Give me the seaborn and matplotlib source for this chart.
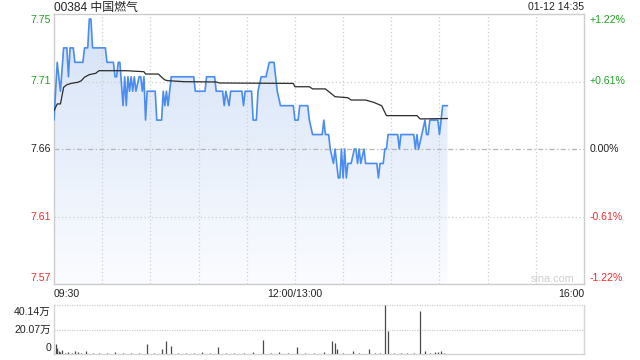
import numpy as np
import pandas as pd
import matplotlib
matplotlib.use("Agg")
import matplotlib.pyplot as plt
import matplotlib.transforms as mtransforms
from matplotlib.colors import LinearSegmentedColormap
import seaborn as sns

sns.set_style("white")
plt.rcParams["font.family"] = ["Liberation Sans", "Noto Sans CJK SC", "DejaVu Sans"]

# ---------------- data ----------------
title = "00384 中国燃气"
stamp = "01-12 14:35"
watermark = "sina.com"
prev_close = 7.66
range_pct = 1.22
pct_levels = [1.22, 0.61, 0.0, -0.61, -1.22]
price_labels = ["7.75", "7.71", "7.66", "7.61", "7.57"]
pct_labels = ["+1.22%", "+0.61%", "0.00%", "-0.61%", "-1.22%"]
time_labels = ["09:30", "12:00/13:00", "16:00"]
time_pos = [0, 150, 330]          # trading minutes from open
session_len = 330

price_t = [0, 2, 4, 6, 8, 9, 10, 12, 13, 18,
           19, 21, 22, 23, 24, 32, 33, 37, 38, 39,
           40, 41, 43, 44, 45, 46, 47, 48, 49, 50,
           51, 53, 54, 55, 56, 57, 58, 63, 64, 67,
           68, 69, 70, 71, 72, 73, 87, 88, 94, 95,
           100, 101, 105, 106, 107, 109, 110, 117, 118, 119,
           123, 124, 126, 127, 129, 132, 134, 137, 139, 141,
           149, 150, 152, 153, 158, 159, 161, 167, 168, 169,
           171, 172, 174, 175, 177, 178, 179, 180, 181, 182,
           183, 185, 187, 188, 189, 190, 191, 193, 194, 201,
           202, 203, 205, 206, 207, 208, 214, 215, 216, 224,
           225, 226, 227, 229, 231, 232, 233, 234, 239, 240,
           241, 242, 245]
price_v = [7.68, 7.72, 7.70, 7.73, 7.73, 7.71, 7.73, 7.73, 7.72, 7.72,
           7.73, 7.73, 7.75, 7.75, 7.73, 7.73, 7.72, 7.72, 7.71, 7.71,
           7.72, 7.72, 7.69, 7.71, 7.69, 7.71, 7.70, 7.71, 7.70, 7.71,
           7.70, 7.71, 7.71, 7.70, 7.71, 7.68, 7.70, 7.70, 7.68, 7.68,
           7.70, 7.69, 7.70, 7.69, 7.70, 7.71, 7.71, 7.70, 7.70, 7.71,
           7.71, 7.70, 7.70, 7.69, 7.70, 7.69, 7.70, 7.70, 7.69, 7.70,
           7.70, 7.68, 7.68, 7.70, 7.71, 7.71, 7.72, 7.72, 7.70, 7.69,
           7.69, 7.68, 7.68, 7.69, 7.69, 7.68, 7.67, 7.67, 7.68, 7.67,
           7.67, 7.66, 7.65, 7.66, 7.64, 7.64, 7.66, 7.64, 7.66, 7.64,
           7.65, 7.65, 7.66, 7.66, 7.65, 7.66, 7.65, 7.66, 7.65, 7.65,
           7.64, 7.65, 7.65, 7.66, 7.66, 7.67, 7.67, 7.66, 7.67, 7.67,
           7.66, 7.67, 7.66, 7.67, 7.68, 7.67, 7.67, 7.68, 7.68, 7.67,
           7.68, 7.69, 7.69]

avg_t = [0, 2, 4, 6, 8, 11, 15, 17, 19, 22,
         26, 28, 45, 56, 57, 65, 67, 69, 71, 81,
         101, 103, 149, 150, 159, 161, 169, 175, 183, 185,
         194, 199, 204, 207, 226, 228, 245]
avg_v = [7.6865, 7.6912, 7.6912, 7.7027, 7.7045, 7.7055, 7.7062, 7.7073, 7.7097, 7.7115,
         7.7124, 7.7142, 7.7142, 7.7135, 7.7119, 7.7119, 7.7097, 7.7078, 7.7073, 7.7066,
         7.7064, 7.7057, 7.7054, 7.7031, 7.7031, 7.7016, 7.7016, 7.6962, 7.6955, 7.6939,
         7.6939, 7.6923, 7.6900, 7.6831, 7.6831, 7.6808, 7.6811]

vol_max = 40.14
vol_labels = ["40.14万", "20.07万", "0"]
vol_t = [1, 2, 3, 4, 5, 7, 9, 11, 13, 15,
         17, 20, 24, 28, 33, 38, 43, 48, 53, 58,
         62, 67, 70, 73, 77, 82, 87, 92, 97, 102,
         107, 112, 118, 124, 130, 135, 140, 146, 151, 156,
         162, 168, 173, 175, 176, 180, 186, 190, 196, 200,
         203, 206, 208, 212, 216, 220, 224, 228, 231, 234,
         237, 239, 241, 243]
vol_v = [7.9, 4.9, 2.5, 1.5, 3.0, 1.2, 2.0, 1.0, 2.2, 1.5,
         1.0, 2.4, 1.2, 1.0, 0.8, 1.4, 0.8, 1.0, 0.9, 8.0,
         1.2, 4.4, 10.3, 6.3, 1.0, 1.2, 0.9, 1.4, 0.8, 5.7,
         1.0, 1.2, 0.9, 1.5, 11.2, 1.0, 1.3, 1.2, 5.4, 1.0,
         1.1, 1.4, 10.3, 9.0, 4.0, 1.0, 2.7, 1.0, 4.4, 1.2,
         1.0, 40.14, 19.0, 1.1, 1.0, 1.2, 0.9, 35.5, 2.7, 1.0,
         2.0, 1.4, 2.7, 1.0]

# ---------------- figure ----------------
W, H = 640, 360
fig = plt.figure(figsize=(6.4, 3.6), dpi=100)
ax = fig.add_axes([54 / W, 1 - 284 / H, 530 / W, 270 / H])
axv = fig.add_axes([54 / W, 1 - 354 / H, 530 / W, 49 / H])

ymin = prev_close * (1 - range_pct / 100)
ymax = prev_close * (1 + range_pct / 100)
levels = [prev_close * (1 + p / 100) for p in pct_levels]

GREEN = "#1ea01e"
RED = "#f02c2c"
GRID = "#cfcfcf"
BLUE = "#4a8cf0"

ax.set_xlim(0, session_len)
ax.set_ylim(ymin, ymax)

# gradient fill under price line
df_p = pd.DataFrame({"t": price_t, "price": price_v})
poly = ax.fill_between(df_p["t"], df_p["price"], ymin, facecolor="none", edgecolor="none")
cmap = LinearSegmentedColormap.from_list("fillgrad", ["#fbfcff", "#d4e2f7"])
grad = np.linspace(0, 1, 256).reshape(-1, 1)
im = ax.imshow(grad, extent=[0, session_len, ymin, ymax], origin="lower",
               aspect="auto", cmap=cmap, zorder=1, interpolation="bilinear")
im.set_clip_path(poly.get_paths()[0], ax.transData)
ax.set_xlim(0, session_len)
ax.set_ylim(ymin, ymax)

# grid
for x in range(30, session_len, 30):
    ax.axvline(x, color=GRID, lw=0.9, ls=(0, (1, 2)), zorder=2)
for p, lv in zip(pct_levels, levels):
    if p == 0:
        ax.axhline(lv, color="#b5b5b5", lw=0.9, ls=(0, (4, 2, 1, 2)), zorder=2)
    elif abs(p) < range_pct:
        ax.axhline(lv, color=GRID, lw=0.9, ls=(0, (1, 2)), zorder=2)

sns.lineplot(data=df_p, x="t", y="price", ax=ax, color=BLUE, lw=1.2,
             estimator=None, zorder=4)
df_a = pd.DataFrame({"t": avg_t, "avg": avg_v})
sns.lineplot(data=df_a, x="t", y="avg", ax=ax, color="#2b2b2b", lw=0.9,
             estimator=None, zorder=5)

ax.set_xticks([])
ax.set_yticks([])
ax.set_xlabel("")
ax.set_ylabel("")
for s in ax.spines.values():
    s.set_color("#cccccc")
    s.set_linewidth(1.0)

blend = mtransforms.blended_transform_factory(ax.transAxes, ax.transData)
fs = 7.6
n = len(levels)
for i, (lv, pl, cl) in enumerate(zip(levels, price_labels, pct_labels)):
    dy = 0
    if i == 0:
        dy = -6
    elif i == n - 1:
        dy = 6
    col = GREEN if pct_levels[i] > 0 else (RED if pct_levels[i] < 0 else "#222222")
    tl = blend + mtransforms.ScaledTranslation(-3 / 100, dy / 100, fig.dpi_scale_trans)
    tr = blend + mtransforms.ScaledTranslation(6 / 100, dy / 100, fig.dpi_scale_trans)
    ax.text(0, lv, pl, transform=tl, ha="right", va="center", fontsize=fs, color=col)
    ax.text(1, lv, cl, transform=tr, ha="left", va="center", fontsize=fs, color=col)

# header texts
fig.text(54 / W, 1 - 7.5 / H, title, ha="left", va="center", fontsize=8.6, color="#222222")
fig.text(584 / W, 1 - 7.5 / H, stamp, ha="right", va="center", fontsize=7.6, color="#222222")
# time labels
tx = [54 / W, 295 / W, 584 / W]
has = ["left", "center", "right"]
for lab, x, ha in zip(time_labels, tx, has):
    fig.text(x, 1 - 294 / H, lab, ha=ha, va="center", fontsize=7.6, color="#222222")
fig.text(574 / W, 1 - 279 / H, watermark, ha="right", va="center", fontsize=7.8, color="#cfcfcf")

# ---------------- volume ----------------
axv.set_xlim(0, session_len)
axv.set_ylim(0, vol_max)
axv.vlines(vol_t, 0, vol_v, color="#4a4a4a", lw=0.9, zorder=3)
axv.axhline(vol_max / 2, color=GRID, lw=0.9, ls=(0, (1, 1)), zorder=1)
axv.axhline(vol_max, color=GRID, lw=0.9, ls=(0, (1, 1)), zorder=1, clip_on=False)
axv.set_xticks([])
axv.set_yticks([])
axv.spines["top"].set_visible(False)
for k in ["left", "right", "bottom"]:
    axv.spines[k].set_color("#d5d5d5")
    axv.spines[k].set_linewidth(1.0)
blendv = mtransforms.blended_transform_factory(axv.transAxes, axv.transData)
vlv = [vol_max, vol_max / 2, 0]
vdy = [-7, 0, 6]
for lv, lab, dy in zip(vlv, vol_labels, vdy):
    tl = blendv + mtransforms.ScaledTranslation(-3 / 100, dy / 100, fig.dpi_scale_trans)
    axv.text(0, lv, lab, transform=tl, ha="right", va="center", fontsize=7.6, color="#222222")

fig.savefig("out.png", dpi=100, facecolor="white")
